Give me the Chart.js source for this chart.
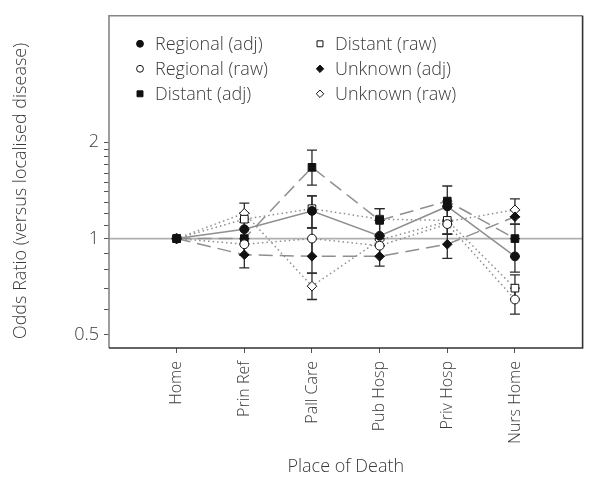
<!DOCTYPE html>
<html>
<head>
<meta charset="utf-8">
<script src="https://cdn.jsdelivr.net/npm/chart.js@4.4.0/dist/chart.umd.min.js"></script>
<style>
  html, body { margin: 0; padding: 0; background: #fff; }
  #wrap { width: 589px; height: 488px; }
</style>
</head>
<body>
<div id="wrap"><canvas id="chart" width="589" height="488"></canvas></div>
<script>
const places = ['Home', 'Prin Ref', 'Pall Care', 'Pub Hosp', 'Priv Hosp', 'Nurs Home'];

// odds ratios and 95% limits per place of death (Home = reference)
const regionalAdj   = [1.00, 1.07, 1.22, 1.02, 1.26, 0.88];
const regionalAdjLo = [null, 1.00, 1.08, 0.95, 1.14, 0.786];
const regionalAdjHi = [null, 1.15, 1.36, 1.14, 1.31, 1.00];

const regionalRaw   = [1.00, 0.96, 1.00, 0.95, 1.11, 0.645];
const regionalRawLo = [null, 0.89, 0.88, 0.88, 1.033, 0.581];
const regionalRawHi = [null, 1.00, 1.08, 1.00, 1.14, 0.70];

const distantAdj    = [1.00, 1.00, 1.67, 1.14, 1.31, 1.00];
const distantAdjLo  = [null, 0.89, 1.47, 1.02, 1.26, 0.88];
const distantAdjHi  = [null, 1.07, 1.89, 1.24, 1.46, 1.11];

const distantRaw    = [1.00, 1.15, 1.24, 1.15, 1.14, 0.70];
const distantRawLo  = [null, 1.07, 1.08, 1.14, 1.11, 0.645];
const distantRawHi  = [null, 1.20, 1.36, 1.24, 1.26, 0.77];

const unknownAdj    = [1.00, 0.89, 0.88, 0.88, 0.96, 1.17];
const unknownAdjLo  = [null, 0.81, 0.78, 0.82, 0.867, 1.11];
const unknownAdjHi  = [null, 0.96, 1.00, 0.95, 1.033, 1.23];

const unknownRaw    = [1.00, 1.20, 0.71, 0.99, 1.13, 1.23];
const unknownRawLo  = [null, 1.124, 0.645, 0.95, 1.033, 1.17];
const unknownRawHi  = [null, 1.29, 0.78, 1.02, 1.14, 1.33];

const yTicks  = [0.5, 0.6, 0.7, 0.8, 0.9, 1, 1.1, 1.2, 1.3, 1.4, 1.5, 1.6, 1.7, 1.8, 1.9, 2];
const yLabels = [0.5, 1, 2];

const FONT = 'Open Sans';
const INK = '#3a3a3a';
const LINE = '#8f8f8f';
const DOTS = [1.5, 3];
const DASH = [14, 7];

const series = [
  { label: 'Regional (adj)', data: regionalAdj, lo: regionalAdjLo, hi: regionalAdjHi, shape: 'circle', filled: true,  dash: [] },
  { label: 'Regional (raw)', data: regionalRaw, lo: regionalRawLo, hi: regionalRawHi, shape: 'circle', filled: false, dash: DOTS },
  { label: 'Distant (adj)',  data: distantAdj,  lo: distantAdjLo,  hi: distantAdjHi,  shape: 'rect',   filled: true,  dash: DASH },
  { label: 'Distant (raw)',  data: distantRaw,  lo: distantRawLo,  hi: distantRawHi,  shape: 'rect',   filled: false, dash: DOTS },
  { label: 'Unknown (adj)',  data: unknownAdj,  lo: unknownAdjLo,  hi: unknownAdjHi,  shape: 'rectRot', filled: true,  dash: DASH },
  { label: 'Unknown (raw)',  data: unknownRaw,  lo: unknownRawLo,  hi: unknownRawHi,  shape: 'rectRot', filled: false, dash: DOTS }
];

const radius = { circle: 4.4, rect: 5.4, rectRot: 4.8 };

const datasets = series.map(s => ({
  label: s.label,
  data: s.data.map((v, i) => ({ x: i + 1, y: v })),
  borderColor: LINE,
  borderWidth: 1.5,
  borderDash: s.dash,
  pointStyle: s.shape,
  pointRadius: radius[s.shape],
  pointBackgroundColor: s.filled ? '#111' : '#fff',
  pointBorderColor: '#111',
  pointBorderWidth: 1,
  tension: 0,
  fill: false
}));

// reference line at OR = 1 plus the confidence interval whiskers, under the markers
const whiskers = {
  id: 'whiskers',
  beforeDatasetsDraw(chart) {
    const { ctx, chartArea: a, scales: { x, y } } = chart;
    ctx.save();
    const y1 = y.getPixelForValue(1);
    ctx.strokeStyle = '#b0b0b0';
    ctx.lineWidth = 1.6;
    ctx.beginPath(); ctx.moveTo(a.left, y1); ctx.lineTo(a.right, y1); ctx.stroke();

    ctx.strokeStyle = '#2a2a2a';
    ctx.lineWidth = 1.3;
    series.forEach(s => {
      s.lo.forEach((lo, i) => {
        const hi = s.hi[i];
        if (lo == null || hi == null) return;
        const px = x.getPixelForValue(i + 1);
        const pl = y.getPixelForValue(lo), ph = y.getPixelForValue(hi);
        ctx.beginPath();
        ctx.moveTo(px, pl); ctx.lineTo(px, ph);
        ctx.moveTo(px - 5, pl); ctx.lineTo(px + 5, pl);
        ctx.moveTo(px - 5, ph); ctx.lineTo(px + 5, ph);
        ctx.stroke();
      });
    });
    ctx.restore();
  }
};

function marker(ctx, shape, filled, cx, cy, r) {
  ctx.beginPath();
  if (shape === 'circle') {
    ctx.arc(cx, cy, r, 0, Math.PI * 2);
  } else if (shape === 'rect') {
    const h = r * Math.SQRT1_2;
    ctx.rect(cx - h, cy - h, 2 * h, 2 * h);
  } else {
    ctx.moveTo(cx - r, cy); ctx.lineTo(cx, cy - r); ctx.lineTo(cx + r, cy); ctx.lineTo(cx, cy + r);
    ctx.closePath();
  }
  ctx.fillStyle = filled ? '#111' : '#fff';
  ctx.fill();
  ctx.strokeStyle = '#111';
  ctx.lineWidth = 1;
  ctx.stroke();
}

// two-column key inside the plot, y-axis title, and the box around the plot
const keyAndFrame = {
  id: 'keyAndFrame',
  afterDraw(chart) {
    const { ctx, chartArea: a } = chart;
    ctx.save();
    ctx.font = `300 18px "${FONT}"`;
    ctx.textBaseline = 'middle';
    ctx.textAlign = 'left';
    const colX = [a.left + 31, a.left + 211];
    series.forEach((s, i) => {
      const col = Math.floor(i / 3), row = i % 3;
      const mx = colX[col], my = a.top + 28 + row * 25;
      marker(ctx, s.shape, s.filled, mx, my, radius[s.shape] * 0.78);
      ctx.fillStyle = INK;
      ctx.fillText(s.label, mx + 15, my + 1);
    });

    ctx.save();
    ctx.translate(21, 191);
    ctx.rotate(-Math.PI / 2);
    ctx.textAlign = 'center';
    ctx.fillStyle = INK;
    ctx.fillText('Odds Ratio (versus localised disease)', 0, 0);
    ctx.restore();

    ctx.lineWidth = 1.6;
    ctx.strokeStyle = '#858585';
    ctx.beginPath();
    ctx.moveTo(a.left, a.bottom); ctx.lineTo(a.left, a.top); ctx.lineTo(a.right, a.top);
    ctx.stroke();
    ctx.strokeStyle = '#333';
    ctx.beginPath();
    ctx.moveTo(a.right, a.top); ctx.lineTo(a.right, a.bottom); ctx.lineTo(a.left, a.bottom);
    ctx.stroke();
    ctx.restore();
  }
};

new Chart(document.getElementById('chart'), {
  type: 'line',
  data: { datasets },
  plugins: [whiskers, keyAndFrame],
  options: {
    responsive: false,
    animation: false,
    layout: { padding: { left: 0, top: 7, right: 5, bottom: 0 } },
    plugins: { legend: { display: false }, tooltip: { enabled: false } },
    scales: {
      x: {
        type: 'linear',
        min: 0,
        max: places.length + 1,
        afterBuildTicks: s => { s.ticks = places.map((_, i) => ({ value: i + 1 })); },
        afterFit: s => { s.height = 140; },
        ticks: {
          autoSkip: false, minRotation: 90, maxRotation: 90, padding: 8,
          color: INK, font: { family: FONT, size: 16, weight: 300 },
          callback: v => places[v - 1] ?? ''
        },
        grid: { drawOnChartArea: false, drawTicks: true, tickLength: 5, color: '#555' },
        border: { display: false },
        title: { display: true, text: 'Place of Death', color: INK, font: { family: FONT, size: 18, weight: 300 }, padding: { top: 0, bottom: 10 } }
      },
      y: {
        type: 'logarithmic',
        min: 0.455,
        max: 4.97,
        afterBuildTicks: s => { s.ticks = yTicks.map(v => ({ value: v })); },
        afterFit: s => { s.width = 109; },
        ticks: {
          autoSkip: false, padding: 5,
          color: INK, font: { family: FONT, size: 18, weight: 300 },
          callback: v => yLabels.includes(v) ? String(v) : ''
        },
        grid: { drawOnChartArea: false, drawTicks: true, tickLength: 5, color: '#555' },
        border: { display: false }
      }
    }
  }
});
</script>
</body>
</html>
